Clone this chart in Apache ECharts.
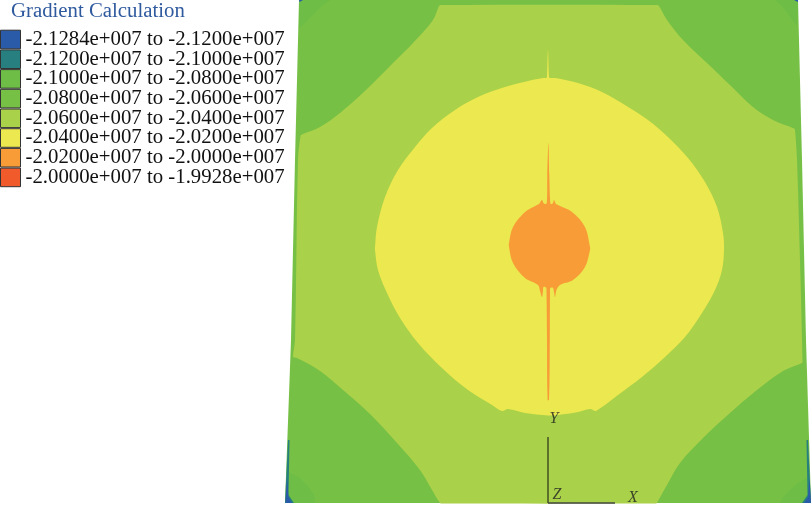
<!DOCTYPE html>
<html><head><meta charset="utf-8">
<style>html,body{margin:0;padding:0;background:#fff}#c{width:812px;height:509px}</style>
<script src="https://cdn.jsdelivr.net/npm/echarts@6/dist/echarts.min.js"></script>
</head><body><div id="c"></div>
<script>
const chartTitle = 'Gradient Calculation';
const bandLabels = [
 '-2.1284e+007 to -2.1200e+007','-2.1200e+007 to -2.1000e+007','-2.1000e+007 to -2.0800e+007',
 '-2.0800e+007 to -2.0600e+007','-2.0600e+007 to -2.0400e+007','-2.0400e+007 to -2.0200e+007',
 '-2.0200e+007 to -2.0000e+007','-2.0000e+007 to -1.9928e+007'];
const bandColors = ['#2a5ba8','#27807f','#6dbd46','#76c045','#a9d149','#ece84f','#f89c38','#f15a2b'];

// Contour outlines (model plane, origin top-left)
const plate = [[299,0],[798,0],[802,160],[806,340],[811,503],[285,503],[291,340],[295,160]];
const blueEdges = [
 [[285.5,503],[287,478],[288.5,497],[292,503]],
 [[811,503],[809.5,478],[808,497],[804,503]],
 [[299,0],[303,0],[299.5,2]],
 [[798,0],[794,0],[798,2]]];
const tealEdges = [
 [[285,503],[288,440],[289.5,440],[288.5,495],[294,503]],
 [[811,503],[808,440],[806.5,440],[807.5,495],[802,503]]];
const darkCorners = [
 [[299,0],[330,0],[323,5],[303,25],[299,28]],
 [[798,0],[775,0],[782,6],[797,26]],
 [[286,503],[315,503],[314,495],[308,486],[300,478],[289,472]],
 [[810,503],[780,503],[784,496],[790,490],[798,483],[807,478]]];
const lime = [
 [439,6],[441,5],[657,5],[659,6],[667,20],[683,40],[707,63],[730,85],[753,107],[773,120],[794,128.5],[795,130],[797,160],[800,260],[802.5,361],[802,363],
 [783,371],[757,390],[730,413],[703,438],[680,463],[667,485],[658,501],[657,503],[655,503.5],
 [442,503.5],[440,503],[432,490],[420,470],[397,443],[370,414],[343,390],[320,371],[297,358],[294,357.5],[293,356],
 [295,340],[298,160],[300.5,136],[302,134.5],[320,127],[340,113],[367,89],[393,63],[413,43],[433,20]];
const yellow = [
 [505,87],[532,80],[543,78],[546.5,77.8],[547,76],[548,50],[549,76],[549.5,77.8],[555,78],[578,83],[602,92],[625,105],[648,120],[668,137],[688,158],[705,182],[717,207],[723,233],
 [724,250],[722,270],[715,290],[702,313],[685,337],[665,357],[642,377],[618,395],[605,405],[596,411],[595,411],[590,409],[578,412],[558,415],
 [548,415.5],[525,413],[508,409],[502,411],[492,405],[468,390],[442,368],[418,343],[400,318],[387,293],[378,270],[375,250],
 [375,247],[377,227],[385,197],[398,170],[415,147],[432,128],[455,110],[478,97]];
const orange = [
 [525,212],[537,205],[539,204],[542,200],[543.5,203],[545,204],[546.8,203],[547.3,175],[548.5,143],[549.3,175],[550.3,203],[551.5,204],[553,203],[554,200],[556,204],[558,205],
 [572,212],[585,227],[590,247],[590,250],[585,267],[573,280],[560,285],[556.5,290],[555,297],[554,292],[553,288],[550.5,288],[550,291],[549.8,340],[549,400],
 [547.6,400],[547,340],[546.5,291],[546,287.5],[543.5,287],[543,291],[542,297],[540,291],[538,285],[525,278],[513,263],[509,247],[509,243],[513,227]];
const bandRegions = [blueEdges, tealEdges, darkCorners, [plate], [lime], [yellow], [orange], []];
const bandZ = [4,3,2,1,5,6,7,8];
const bandSmooth = [0,0,0,0,0.35,0.35,0.35,0];

// Coordinate triad
const triadY = [[548,437],[548,503]];
const triadX = [[548,503],[615,503]];
const triadLabels = [{name:'Y',value:[554,419]},{name:'Z',value:[557,495]},{name:'X',value:[633,498]}];

const font = '"Liberation Serif", serif';
const chart = echarts.init(document.getElementById('c'), null, {renderer:'canvas'});
const bandSeries = bandLabels.map((name,i)=>({
  name, type:'custom', z:bandZ[i], silent:true, clip:false,
  itemStyle:{color:bandColors[i]},
  data: bandRegions[i].map((_,k)=>[k]),
  renderItem:(params,api)=>{
    const poly = bandRegions[i][api.value(0)];
    return {type:'polygon', shape:{points:poly.map(p=>api.coord(p)), smooth:bandSmooth[i]},
      style:{fill:bandColors[i]}};
  }
}));
chart.setOption({
  animation:false, backgroundColor:'#fff',
  title:{text:chartTitle,left:6,top:-4,textStyle:{fontFamily:font,fontWeight:'normal',fontSize:20.8,color:'#2f5a9e'}},
  grid:{left:0,right:0,top:0,bottom:0},
  xAxis:{type:'value',min:0,max:812,show:false},
  yAxis:{type:'value',min:0,max:509,inverse:true,show:false},
  legend:{orient:'vertical',left:0,top:29,padding:0,itemGap:-1.3,itemWidth:20,itemHeight:18.6,selectedMode:false,icon:'rect',
    textStyle:{fontFamily:font,fontSize:20.8,color:'#111'},
    data:bandLabels.map((name,i)=>({name,icon:'rect',itemStyle:{color:bandColors[i],borderColor:'#333',borderWidth:1}}))},
  series:[...bandSeries,
    {type:'line',data:triadY,symbol:'none',z:10,silent:true,lineStyle:{color:'#111',width:1}},
    {type:'line',data:triadX,symbol:'none',z:10,silent:true,lineStyle:{color:'#444',width:1.5}},
    {type:'scatter',data:triadLabels,symbolSize:0,z:11,silent:true,
     label:{show:true,position:'inside',formatter:'{b}',fontFamily:font,fontStyle:'italic',fontSize:16,color:'#222'}}
  ]
});
</script></body></html>
